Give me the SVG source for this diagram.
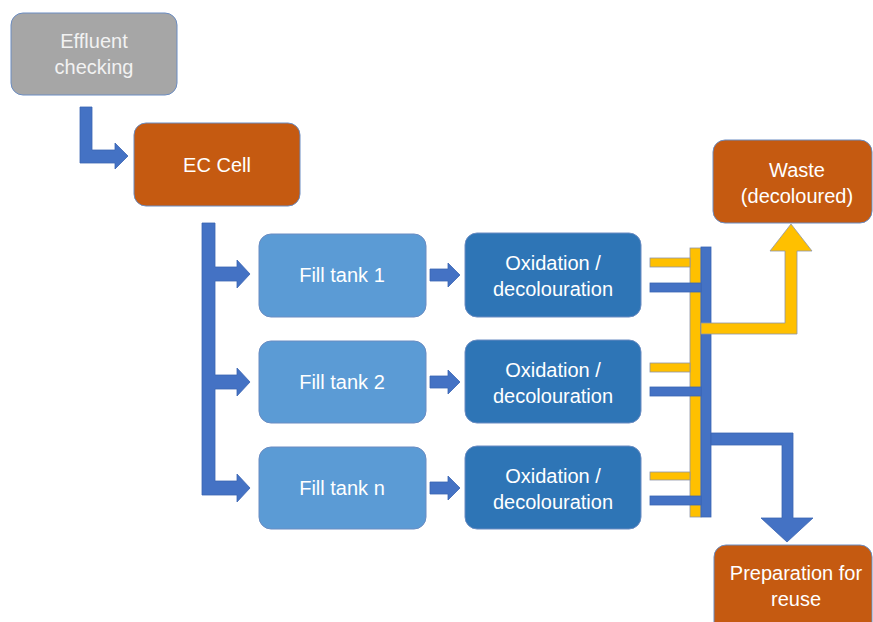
<svg xmlns="http://www.w3.org/2000/svg" width="873" height="622" viewBox="0 0 873 622">
<style>
.box{stroke:#6A8CC2;stroke-width:1}
.gray{fill:#A6A6A6}
.orange{fill:#C55A11}
.fill{fill:#5B9BD5}
.ox{fill:#2E75B6}
.t{font-family:"Liberation Sans",Arial,sans-serif;font-size:20px;fill:#FFFFFF;text-anchor:middle}
.tg{fill:#F2F2F2}
.ba{fill:#4472C4;stroke:#3B65B3;stroke-width:0.8}
.ya{fill:#FFC000;stroke:#8E95A8;stroke-width:0.8}
</style>
<rect width="873" height="622" fill="#FFFFFF"/>
<g id="connectors">
  <!-- Effluent to EC Cell -->
  <path class="ba" d="M80,107 H92 V150 H115 V143 L128,156 L115,169 V163 H80 Z"/>
  <!-- trunk to fill tanks -->
  <path class="ba" d="M202,223 H215 V267 H237 V260 L250,274 L237,288 V281 H215 V375 H237 V368 L250,382 L237,396 V389 H215 V481 H237 V474 L250,488 L237,502 V495 H202 Z"/>
  <!-- fill tank to oxidation -->
  <path class="ba" d="M430,269 H448 V263 L460,275 L448,287 V281 H430 Z"/>
  <path class="ba" d="M430,376 H448 V370 L460,382 L448,394 V388 H430 Z"/>
  <path class="ba" d="M430,482 H448 V476 L460,488 L448,500 V494 H430 Z"/>
  <!-- collectors -->
  <rect class="ya" x="690" y="248" width="11" height="269"/>
  <rect class="ba" x="701" y="247" width="10" height="270"/>
  <rect class="ya" x="650" y="258" width="40" height="9"/>
  <rect class="ya" x="650" y="363" width="40" height="9"/>
  <rect class="ya" x="650" y="472" width="40" height="8"/>
  <rect class="ba" x="650" y="283" width="51" height="9"/>
  <rect class="ba" x="650" y="387" width="51" height="9"/>
  <rect class="ba" x="650" y="496" width="51" height="9"/>
  <!-- to waste -->
  <path class="ya" d="M701,323 H785 V251 H770 L791,224 L812,251 H797 V334 H701 Z"/>
  <!-- to preparation -->
  <path class="ba" d="M711,433 H793 V518 H813 L787,542 L761,518 H782 V445 H711 Z"/>
</g>
<g id="effluent">
  <rect class="box gray" x="11" y="13" width="166" height="82" rx="12"/>
  <text class="t tg" x="94" y="48">Effluent</text>
  <text class="t tg" x="94" y="74">checking</text>
</g>
<g id="ec-cell">
  <rect class="box orange" x="134" y="123" width="166" height="83" rx="12"/>
  <text class="t" x="217" y="172">EC Cell</text>
</g>
<g id="fill-tank-1">
  <rect class="box fill" x="259" y="234" width="167" height="83" rx="12"/>
  <text class="t" x="342" y="282">Fill tank 1</text>
</g>
<g id="fill-tank-2">
  <rect class="box fill" x="259" y="341" width="167" height="82" rx="12"/>
  <text class="t" x="342" y="389">Fill tank 2</text>
</g>
<g id="fill-tank-n">
  <rect class="box fill" x="259" y="447" width="167" height="82" rx="12"/>
  <text class="t" x="342" y="495">Fill tank n</text>
</g>
<g id="oxidation-1">
  <rect class="box ox" x="465" y="233" width="176" height="84" rx="12"/>
  <text class="t" x="553" y="270">Oxidation /</text>
  <text class="t" x="553" y="296">decolouration</text>
</g>
<g id="oxidation-2">
  <rect class="box ox" x="465" y="340" width="176" height="83" rx="12"/>
  <text class="t" x="553" y="377">Oxidation /</text>
  <text class="t" x="553" y="403">decolouration</text>
</g>
<g id="oxidation-n">
  <rect class="box ox" x="465" y="446" width="176" height="83" rx="12"/>
  <text class="t" x="553" y="483">Oxidation /</text>
  <text class="t" x="553" y="509">decolouration</text>
</g>
<g id="waste">
  <rect class="box orange" x="713" y="140" width="159" height="83" rx="12"/>
  <text class="t" x="797" y="177">Waste</text>
  <text class="t" x="797" y="203">(decoloured)</text>
</g>
<g id="preparation">
  <rect class="box orange" x="714" y="545" width="158" height="90" rx="12"/>
  <text class="t" x="796" y="580">Preparation for</text>
  <text class="t" x="796" y="606">reuse</text>
</g>
</svg>
